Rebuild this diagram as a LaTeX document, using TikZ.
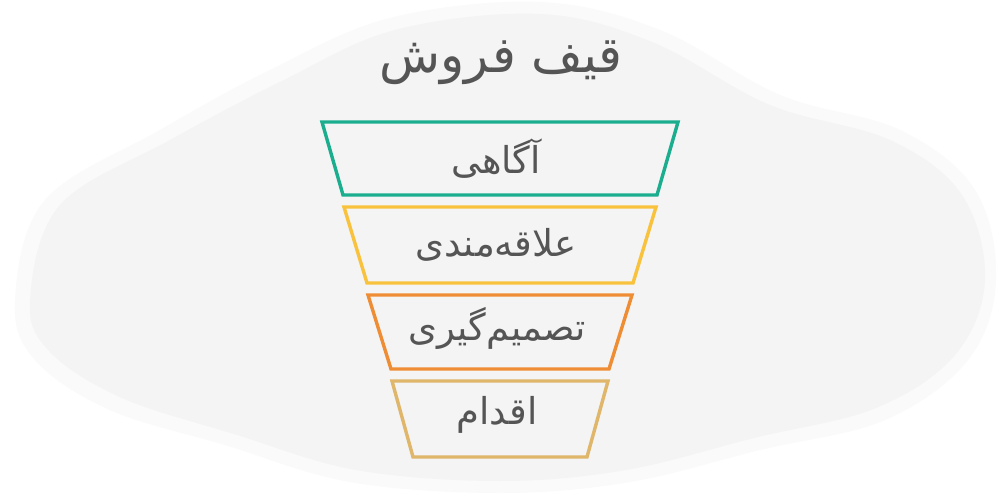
\documentclass[tikz,border=0pt]{standalone}
\usepackage{fontspec}
\newfontfamily\arabicfont[Script=Arabic]{DejaVu Sans}
\TeXXeTstate=1
\definecolor{teal1}{HTML}{1AAE8F}
\definecolor{yel1}{HTML}{F8C23C}
\definecolor{ora1}{HTML}{EF8D35}
\definecolor{tan1}{HTML}{DFB66A}
\definecolor{txt}{HTML}{555555}
\definecolor{bg1}{HTML}{F4F4F4}
\definecolor{bg2}{HTML}{FAFAFA}
\begin{document}
\begin{tikzpicture}[x=1pt,y=-1pt,
  stage/.style={line width=3.4pt, line join=miter},
  lbl/.style={text=txt, font=\arabicfont\fontsize{37}{44}\selectfont, inner sep=0pt},
  ttl/.style={text=txt, font=\arabicfont\fontsize{50}{60}\selectfont, inner sep=0pt}]
\useasboundingbox (0,0) rectangle (1000,494);
\fill[white] (0,0) rectangle (1000,494);
% background cloud
\fill[bg2] plot[smooth cycle, tension=0.6] coordinates {(15,300) (45,200) (160,130) (270,70) (390,18) (540,2) (660,30) (780,95) (900,130) (975,190) (996,280) (968,360) (885,420) (760,450) (630,482) (500,493) (350,482) (225,445) (110,410) (35,360)};
\fill[bg1] plot[smooth cycle, tension=0.6] coordinates {(30,300) (60,205) (170,140) (280,82) (395,30) (540,14) (652,42) (770,105) (890,140) (962,195) (985,280) (955,355) (876,408) (754,438) (626,470) (500,481) (356,470) (234,434) (122,398) (50,352)};
% stages
\coordinate (a1) at (322,122); \coordinate (a2) at (678,122); \coordinate (a3) at (657,195); \coordinate (a4) at (343,195);
\coordinate (b1) at (344,207); \coordinate (b2) at (656,207); \coordinate (b3) at (633,283); \coordinate (b4) at (367,283);
\coordinate (c1) at (368,295); \coordinate (c2) at (632,295); \coordinate (c3) at (609,369); \coordinate (c4) at (391,369);
\coordinate (d1) at (392,381); \coordinate (d2) at (608,381); \coordinate (d3) at (587,457); \coordinate (d4) at (413,457);
\draw[stage, draw=teal1] (a1) -- (a2) -- (a3) -- (a4) -- cycle;
\draw[stage, draw=yel1] (b1) -- (b2) -- (b3) -- (b4) -- cycle;
\draw[stage, draw=ora1] (c1) -- (c2) -- (c3) -- (c4) -- cycle;
\draw[stage, draw=tan1] (d1) -- (d2) -- (d3) -- (d4) -- cycle;
\node[ttl] (title) at (501,63) {\beginR قیف فروش\endR};
\node[lbl] (s1) at (496,159) {\beginR آگاهی\endR};
\node[lbl] (s2) at (496,245) {\beginR علاقه‌مندی\endR};
\node[lbl] (s3) at (497,328) {\beginR تصمیم‌گیری\endR};
\node[lbl] (s4) at (497,415) {\beginR اقدام\endR};
\end{tikzpicture}
\end{document}
